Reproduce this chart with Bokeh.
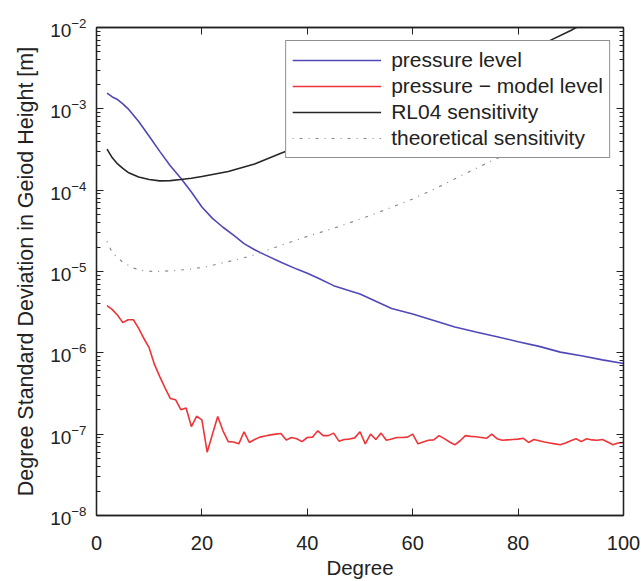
from bokeh.plotting import figure
from bokeh.models import Legend, LegendItem, LogAxis, LinearAxis, FixedTicker
from bokeh.embed import file_html
from bokeh.resources import INLINE

# ---------------- data ----------------
blue_deg = [2, 3, 4, 5, 6, 8, 10, 12, 14, 16, 18, 20, 22, 24, 26, 28, 30, 32, 35, 38,
            40, 42, 45, 48, 50, 53, 56, 60, 64, 68, 72, 76, 80, 84, 88, 92, 96, 100]
blue_val = [1.56e-3, 1.40e-3, 1.30e-3, 1.15e-3, 1.0e-3, 7.0e-4, 4.6e-4, 3.0e-4, 2.0e-4, 1.4e-4,
            9.5e-5, 6.2e-5, 4.5e-5, 3.5e-5, 2.8e-5, 2.2e-5, 1.85e-5, 1.6e-5, 1.3e-5, 1.07e-5,
            9.5e-6, 8.3e-6, 6.7e-6, 5.8e-6, 5.3e-6, 4.3e-6, 3.5e-6, 3.0e-6, 2.5e-6, 2.08e-6,
            1.8e-6, 1.58e-6, 1.37e-6, 1.2e-6, 1.02e-6, 9.2e-7, 8.2e-7, 7.4e-7]

red_deg = list(range(2, 101))
red_val = [3.8e-6, 3.4e-6, 2.9e-6, 2.35e-6, 2.55e-6, 2.55e-6, 2.0e-6, 1.5e-6, 1.15e-6,
           7.2e-7, 5.1e-7, 3.7e-7, 2.75e-7, 2.65e-7, 2.0e-7, 2.1e-7, 1.24e-7, 1.66e-7, 1.5e-7,
           6.0e-8, 1.0e-7, 1.65e-7, 1.1e-7, 8.1e-8, 8.0e-8, 7.6e-8, 1.07e-7, 7.9e-8, 8.6e-8,
           9.2e-8, 9.5e-8, 9.8e-8, 1.0e-7, 1.02e-7, 8.5e-8, 9.1e-8, 8.8e-8, 8.1e-8, 9.1e-8,
           9.2e-8, 1.1e-7, 9.6e-8, 9.6e-8, 1.03e-7, 8.2e-8, 8.6e-8, 8.7e-8, 9.0e-8, 1.07e-7,
           7.6e-8, 1.0e-7, 8.6e-8, 1.03e-7, 8.4e-8, 8.7e-8, 9.1e-8, 9.1e-8, 9.2e-8, 1.0e-7,
           7.6e-8, 8.0e-8, 8.4e-8, 8.5e-8, 9.6e-8, 8.8e-8, 8.0e-8, 7.4e-8, 8.3e-8, 9.6e-8,
           9.4e-8, 9.3e-8, 9.1e-8, 8.9e-8, 1.0e-7, 8.8e-8, 8.4e-8, 8.5e-8, 8.6e-8, 8.7e-8,
           8.9e-8, 7.9e-8, 8.6e-8, 8.3e-8, 8.0e-8, 7.8e-8, 7.6e-8, 7.4e-8, 7.8e-8, 8.3e-8,
           8.8e-8, 8.1e-8, 8.8e-8, 8.5e-8, 8.4e-8, 8.6e-8, 8.0e-8, 7.4e-8, 7.8e-8, 7.9e-8]

rl04_deg = [2, 3, 4, 5, 6, 8, 10, 12, 14, 16, 18, 20, 25, 30, 35, 40, 50, 60, 70, 80, 86, 90, 92]
rl04_val = [3.2e-4, 2.5e-4, 2.1e-4, 1.85e-4, 1.65e-4, 1.45e-4, 1.35e-4, 1.3e-4, 1.31e-4, 1.35e-4,
            1.4e-4, 1.47e-4, 1.7e-4, 2.1e-4, 2.85e-4, 3.8e-4, 7.0e-4, 1.3e-3, 2.4e-3, 4.4e-3,
            6.9e-3, 9.2e-3, 1.08e-2]

theo_deg = [2, 3, 5, 7, 9, 11, 13, 15, 18, 21, 24, 27, 30, 35, 40, 45, 50, 55, 60, 65, 70, 75, 80]
theo_val = [2.35e-5, 1.7e-5, 1.3e-5, 1.1e-5, 1.02e-5, 1.0e-5, 1.01e-5, 1.03e-5, 1.07e-5, 1.15e-5,
            1.28e-5, 1.42e-5, 1.6e-5, 2.1e-5, 2.7e-5, 3.4e-5, 4.4e-5, 5.8e-5, 7.8e-5, 1.1e-4,
            1.6e-4, 2.3e-4, 3.2e-4]

labels = ["pressure level", "pressure \u2212 model level", "RL04 sensitivity", "theoretical sensitivity"]
x_ticks = [0, 20, 40, 60, 80, 100]
y_ticks = [1e-8, 1e-7, 1e-6, 1e-5, 1e-4, 1e-3, 1e-2]
y_minor = [m * t for t in y_ticks[:-1] for m in range(2, 10)]

FONT = "Liberation Sans"
INK = "#222222"

p = figure(width=641, height=581, x_range=(0, 100), y_range=(1e-8, 1e-2),
           y_axis_type="log", output_backend="svg", toolbar_location=None,
           min_border_left=96, min_border_right=18, min_border_top=27, min_border_bottom=60)
p.xgrid.visible = False
p.ygrid.visible = False
p.outline_line_color = INK
p.outline_line_width = 1.3
p.background_fill_color = "white"
p.border_fill_color = "white"

r_blue = p.line(blue_deg, blue_val, line_color="#5048b8", line_width=1.6)
r_red = p.line(red_deg, red_val, line_color="#ee3438", line_width=1.6)
r_black = p.line(rl04_deg, rl04_val, line_color="#262626", line_width=1.6)
r_theo = p.line(theo_deg, theo_val, line_color="#8a8a8a", line_width=1.2, line_dash="1 6 3 6")

def style_axis(ax, size, label_size="20px"):
    ax.axis_line_color = INK
    ax.axis_line_width = 1.3
    ax.major_tick_in = 7
    ax.major_tick_out = 0
    ax.minor_tick_in = 4
    ax.minor_tick_out = 0
    ax.major_tick_line_color = INK
    ax.minor_tick_line_color = INK
    ax.major_label_text_font = FONT
    ax.major_label_text_font_size = size
    ax.major_label_text_color = INK
    ax.axis_label_text_font = FONT
    ax.axis_label_text_font_size = label_size
    ax.axis_label_text_font_style = "normal"
    ax.axis_label_text_color = INK

xax = p.xaxis[0]
xax.ticker = FixedTicker(ticks=x_ticks, minor_ticks=[])
style_axis(xax, "20px", "20.5px")
xax.axis_label = "Degree"
xax.major_label_standoff = 20
xax.axis_label_standoff = 3

yax = p.yaxis[0]
yax.ticker = FixedTicker(ticks=y_ticks, minor_ticks=y_minor)
style_axis(yax, "19px", "21.5px")
yax.axis_label = "Degree Standard Deviation in Geiod Height [m]"
yax.major_label_standoff = 10
yax.axis_label_standoff = 9

rax = LogAxis(ticker=FixedTicker(ticks=y_ticks, minor_ticks=y_minor))
style_axis(rax, "0px")
rax.major_label_text_alpha = 0
rax.major_label_standoff = 0
p.add_layout(rax, "right")

tax = LinearAxis(ticker=FixedTicker(ticks=x_ticks, minor_ticks=[]))
style_axis(tax, "0px")
tax.major_label_text_alpha = 0
tax.major_label_standoff = 0
p.add_layout(tax, "above")

legend = Legend(items=[LegendItem(label=labels[0], renderers=[r_blue]),
                       LegendItem(label=labels[1], renderers=[r_red]),
                       LegendItem(label=labels[2], renderers=[r_black]),
                       LegendItem(label=labels[3], renderers=[r_theo])],
                location="top_right", margin=13, padding=6,
                glyph_width=89, glyph_height=26, label_height=26, label_standoff=10,
                spacing=0,
                label_text_font=FONT, label_text_font_size="21px", label_text_color=INK,
                border_line_color=INK, border_line_width=1.3,
                background_fill_color="white", background_fill_alpha=1.0)
p.add_layout(legend)

open("out.html", "w").write(file_html(p, INLINE))
